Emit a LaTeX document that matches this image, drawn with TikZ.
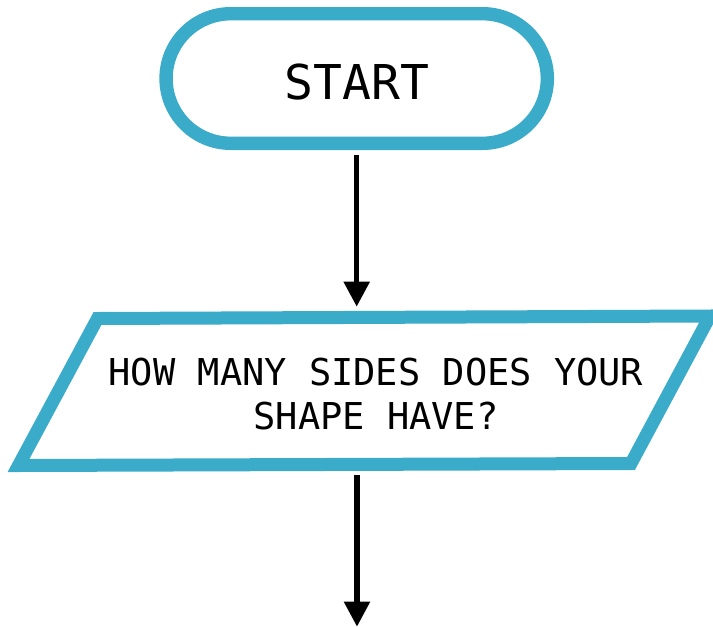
\documentclass[tikz,border=0pt]{standalone}
\usepackage{fontspec}
\newfontfamily\flowmono{DejaVu Sans Mono}
\usetikzlibrary{arrows.meta}
\definecolor{flowblue}{HTML}{3AABC9}
\begin{document}
\begin{tikzpicture}[x=1pt,y=-1pt,
  terminal/.style={draw=flowblue, line width=13.4pt, rounded corners=64.8pt,
    minimum width=381.3pt, minimum height=129.6pt, inner sep=0pt,
    font=\flowmono\fontsize{48}{48}\selectfont, text height=41pt, text depth=0pt},
  iobox/.style={draw=flowblue, line width=13pt, line join=miter},
  qtext/.style={align=center, inner sep=0pt, font=\flowmono\fontsize{37}{44.3}\selectfont},
  flowarrow/.style={draw=black, line width=5.3pt, -{Triangle[width=25pt,length=25pt]}}
]
\useasboundingbox (0,0) rectangle (713,627);
% terminal
\node[terminal] (start) at (356.7,78.5) {START};
% input/output parallelogram
\draw[iobox] (97.5,318.5) -- (710,316) -- (631,463.5) -- (18.5,465.5) -- cycle;
\node[qtext] (q) at (376,393.8) {HOW MANY SIDES DOES YOUR\\SHAPE HAVE?};
% connector end points
\coordinate (qtop) at (357,306.7);
\coordinate (qbot) at (357,475);
\coordinate (next) at (357,626.7);
% connectors
\draw[flowarrow, shorten <=5pt] (start.south) -- (start.south |- qtop);
\draw[flowarrow] (qbot) -- (next);
\end{tikzpicture}
\end{document}
